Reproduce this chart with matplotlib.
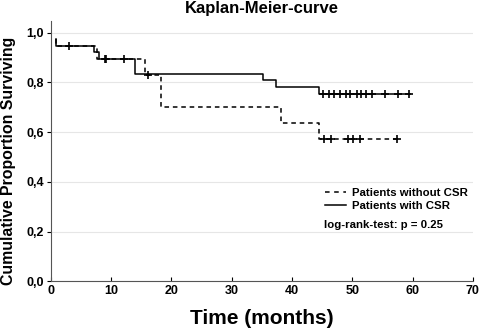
import matplotlib
matplotlib.use("Agg")
from matplotlib import pyplot as plt
from matplotlib.lines import Line2D
from matplotlib.ticker import FuncFormatter

plt.rcParams['font.family'] = ['Liberation Sans', 'DejaVu Sans']

# step curves: times where the curve changes, survival after change
with_t = [0.9, 0.9, 7.2, 8.0, 14.0, 35.2, 37.3, 44.4, 59.5]
with_s = [0.973, 0.947, 0.922, 0.894, 0.834, 0.811, 0.781, 0.754, 0.754]
without_t = [0.9, 0.9, 7.7, 15.7, 18.2, 38.2, 44.4, 57.4]
without_s = [0.973, 0.947, 0.894, 0.828, 0.700, 0.637, 0.574, 0.574]

# censored observations
with_cens_t = [3.0, 9.1, 12.1, 45.2, 46.1, 47.0, 47.9, 48.9, 49.7, 50.7,
               51.5, 52.3, 53.3, 55.4, 57.5, 59.4]
with_cens_s = [0.947, 0.894, 0.894] + [0.754] * 13
without_cens_t = [9.0, 16.2, 45.3, 46.5, 49.3, 50.2, 51.2, 57.4]
without_cens_s = [0.894, 0.828] + [0.574] * 6

fig = plt.figure(figsize=(4.84, 3.29), dpi=100)
ax = fig.add_axes([0.105, 0.145, 0.872, 0.79])

ax.step(with_t, with_s, where='post', color='black', lw=1.1)
ax.step(without_t, without_s, where='post', color='black', lw=1.1,
        ls=(0, (3, 2.5)))
ax.plot(with_cens_t, with_cens_s, ls='none', marker='+', ms=6, mew=1.2,
        color='black')
ax.plot(without_cens_t, without_cens_s, ls='none', marker='+', ms=6,
        mew=1.2, color='black')

ax.set_xlim(0, 70)
ax.set_ylim(0, 1.045)
ax.set_xticks(range(0, 71, 10))
ax.set_yticks([0, 0.2, 0.4, 0.6, 0.8, 1.0])
ax.yaxis.set_major_formatter(FuncFormatter(lambda v, p: f"{v:.1f}".replace('.', ',')))
for lab in ax.get_xticklabels() + ax.get_yticklabels():
    lab.set_fontweight('bold')
ax.tick_params(axis='x', direction='in', length=3, labelsize=9, pad=3)
ax.tick_params(axis='y', direction='out', length=3, labelsize=9, pad=2)
ax.grid(axis='y', color='#e6e6e6', lw=0.8)
ax.set_axisbelow(True)
ax.spines['top'].set_visible(False)
ax.spines['right'].set_visible(False)
ax.spines['left'].set_color('#555555')
ax.spines['bottom'].set_color('#555555')

ax.set_title('Kaplan-Meier-curve', fontsize=12, fontweight='bold', pad=6)
ax.set_xlabel('Time (months)', fontsize=15, fontweight='bold', labelpad=8)
ax.set_ylabel('Cumulative Proportion Surviving', fontsize=11.4,
              fontweight='bold')
ax.yaxis.set_label_coords(-0.082, 0.465)

handles = [Line2D([], [], color='black', lw=1.1, ls=(0, (3, 3))),
           Line2D([], [], color='black', lw=1.1)]
ax.legend(handles, ['Patients without CSR', 'Patients with CSR'],
          loc='upper left', bbox_to_anchor=(0.64, 0.375), frameon=False,
          prop={'weight': 'bold', 'size': 8.2}, handlelength=1.8,
          handletextpad=0.5, labelspacing=0.2, borderaxespad=0)
ax.text(0.648, 0.205, 'log-rank-test: p = 0.25', transform=ax.transAxes,
        fontsize=8.2, fontweight='bold')

fig.savefig('out.png', dpi=100)
